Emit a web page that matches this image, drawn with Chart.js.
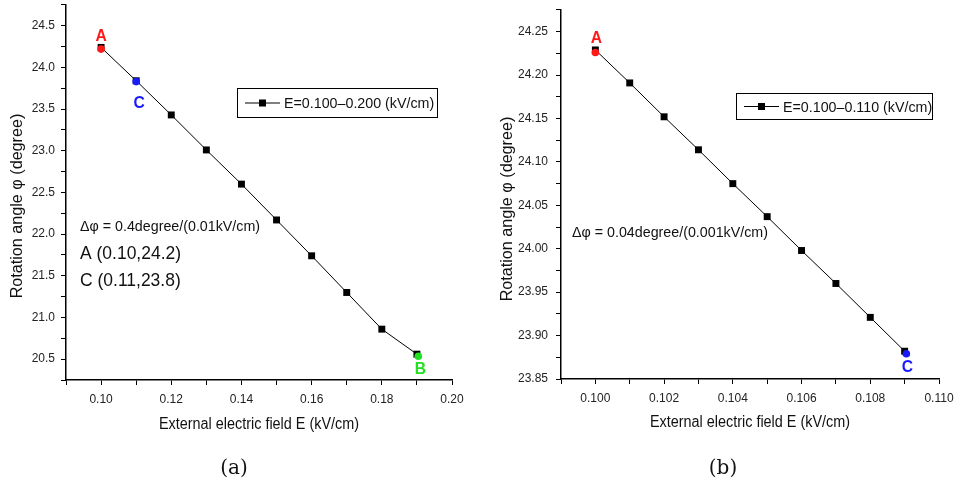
<!DOCTYPE html>
<html>
<head>
<meta charset="utf-8">
<script src="https://cdn.jsdelivr.net/npm/chart.js@4.4.0/dist/chart.umd.min.js"></script>
<style>
  body { margin: 0; background: #fff; }
  .panel { position: absolute; top: 0; height: 485px; }
</style>
</head>
<body>
<div class="panel" style="left:0;width:480px"><canvas id="panel-a" width="480" height="485"></canvas></div>
<div class="panel" style="left:480px;width:483px"><canvas id="panel-b" width="483" height="485"></canvas></div>
<script>
// panel (a): E = 0.100 - 0.200 kV/cm
const fieldA = [0.10, 0.11, 0.12, 0.13, 0.14, 0.15, 0.16, 0.17, 0.18, 0.19];
const angleA = [24.24, 23.84, 23.43, 23.01, 22.60, 22.17, 21.74, 21.30, 20.86, 20.56];
const markNamesA = ["A", "C", "B"];
const markFieldA = [0.100, 0.110, 0.1904];
const markAngleA = [24.22, 23.83, 20.535];
const xMajorA = [0.10, 0.12, 0.14, 0.16, 0.18, 0.20];
const yMajorA = [20.5, 21.0, 21.5, 22.0, 22.5, 23.0, 23.5, 24.0, 24.5];
const notesA = ["\u0394\u03c6 = 0.4degree/(0.01kV/cm)", "A (0.10,24.2)", "C (0.11,23.8)"];

// panel (b): E = 0.100 - 0.110 kV/cm
const fieldB = [0.100, 0.101, 0.102, 0.103, 0.104, 0.105, 0.106, 0.107, 0.108, 0.109];
const angleB = [24.229, 24.191, 24.152, 24.114, 24.075, 24.037, 23.998, 23.960, 23.921, 23.882];
const markNamesB = ["A", "C"];
const markFieldB = [0.100, 0.10905];
const markAngleB = [24.226, 23.879];
const xMajorB = [0.100, 0.102, 0.104, 0.106, 0.108, 0.110];
const yMajorB = [23.85, 23.90, 23.95, 24.00, 24.05, 24.10, 24.15, 24.20, 24.25];
const notesB = ["\u0394\u03c6 = 0.04degree/(0.001kV/cm)"];

const xTitle = "External electric field E (kV/cm)";
const yTitle = "Rotation angle \u03c6 (degree)";

const SANS = '"Liberation Sans", Arial, sans-serif';

// text squeezed a little horizontally, like the original figure
function squeezeText(ctx, text, x, y, font, sx, align) {
  ctx.save();
  ctx.font = font;
  ctx.textAlign = align || "center";
  ctx.textBaseline = "middle";
  ctx.translate(x, y);
  ctx.scale(sx, 1);
  ctx.fillText(text, 0, 0);
  ctx.restore();
}

function panelText(p) {
  return {
    id: "panelText",
    afterDraw(chart) {
      const ctx = chart.ctx;
      ctx.save();
      ctx.fillStyle = "#111";
      squeezeText(ctx, xTitle, p.xTitleAt[0], p.xTitleAt[1], "16px " + SANS, 0.9);
      ctx.save();
      ctx.translate(p.yTitleAt[0], p.yTitleAt[1]);
      ctx.rotate(-Math.PI / 2);
      squeezeText(ctx, yTitle, 0, 0, "17px " + SANS, 0.95);
      ctx.restore();
      ctx.font = '20px "DejaVu Serif", serif';
      ctx.textAlign = "center";
      ctx.textBaseline = "middle";
      ctx.fillText(p.caption, p.captionAt[0], p.captionAt[1]);

      // notes
      p.notes.forEach((n, i) => {
        squeezeText(ctx, n, p.notesAt[i][0], p.notesAt[i][1], p.noteFonts[i], 0.92, "left");
      });

      // legend box
      const lb = p.legend;
      const line = chart.data.datasets[1];
      ctx.strokeStyle = "#000";
      ctx.lineWidth = 1;
      ctx.strokeRect(lb.x + 0.5, lb.y + 0.5, lb.w, lb.h);
      const cy = lb.y + lb.h / 2 + 0.5;
      ctx.beginPath();
      ctx.moveTo(lb.x + 8, cy);
      ctx.lineTo(lb.x + 43, cy);
      ctx.stroke();
      ctx.fillStyle = "#000";
      ctx.fillRect(lb.x + 22, cy - 3.5, 7, 7);
      ctx.fillStyle = "#111";
      squeezeText(ctx, line.label, lb.x + 47, cy + 1, "15.5px " + SANS, 0.92, "left");

      // point labels A, B, C
      const meta = chart.getDatasetMeta(0);
      const marks = chart.data.datasets[0];
      meta.data.forEach((pt, i) => {
        ctx.fillStyle = marks.pointBackgroundColor[i];
        squeezeText(ctx, p.names[i], pt.x + p.nameOffsets[i][0], pt.y + p.nameOffsets[i][1],
          "bold 17px " + SANS, 0.92);
      });
      ctx.restore();
    }
  };
}

function tickList(min, max, step) {
  const n = Math.round((max - min) / step);
  const out = [];
  for (let i = 0; i <= n; i++) out.push({ value: min + i * step });
  return out;
}

function labelFor(v, majors, digits) {
  return majors.some(m => Math.abs(m - v) < 1e-9) ? v.toFixed(digits) : "";
}

function makePanel(id, p) {
  const ctx = document.getElementById(id).getContext("2d");
  const tickFont = { family: SANS, size: 12 };

  const data = {
    datasets: [
      {
        label: "marks",
        data: p.markX.map((x, i) => ({ x: x, y: p.markY[i] })),
        showLine: false,
        pointStyle: "circle",
        pointRadius: 3.8,
        pointBorderWidth: 0,
        pointBackgroundColor: p.markColors,
        order: 0,
      },
      {
        label: p.label,
        data: p.xs.map((x, i) => ({ x: x, y: p.ys[i] })),
        showLine: true,
        borderColor: "#000",
        borderWidth: 1,
        pointStyle: "rect",
        pointRadius: 4.9,
        pointBorderWidth: 0,
        pointBackgroundColor: "#000",
        order: 1,
      },
    ],
  };

  const config = {
    type: "scatter",
    data: data,
    options: {
      responsive: false,
      animation: false,
      events: [],
      layout: { padding: { left: 0, right: p.padRight, top: p.padTop, bottom: 0 } },
      plugins: {
        legend: { display: false },
        tooltip: { enabled: false },
      },
      scales: {
        x: {
          type: "linear",
          min: p.xRange[0],
          max: p.xRange[1],
          afterBuildTicks: s => { s.ticks = tickList(p.xRange[0], p.xRange[1], p.xStep); },
          afterFit: s => { s.height = p.xHeight; s.paddingLeft = 0; s.paddingRight = 0; },
          ticks: {
            autoSkip: false,
            maxRotation: 0,
            padding: 7,
            color: "#222",
            font: tickFont,
            callback: v => labelFor(v, p.xMajor, p.xDigits),
          },
          grid: { drawOnChartArea: false, tickLength: 5, color: "#000", lineWidth: 1 },
          border: { color: "#000", width: 1.5 },
        },
        y: {
          type: "linear",
          min: p.yRange[0],
          max: p.yRange[1],
          afterBuildTicks: s => { s.ticks = tickList(p.yRange[0], p.yRange[1], p.yStep); },
          afterFit: s => { s.width = p.yWidth; s.paddingTop = 0; s.paddingBottom = 0; },
          ticks: {
            autoSkip: false,
            padding: p.yPad,
            color: "#222",
            font: tickFont,
            callback: v => labelFor(v, p.yMajor, p.yDigits),
          },
          grid: { drawOnChartArea: false, tickLength: 5, color: "#000", lineWidth: 1 },
          border: { color: "#000", width: 1.5 },
        },
      },
    },
    plugins: [panelText(p)],
  };

  return new Chart(ctx, config);
}

makePanel("panel-a", {
  xs: fieldA, ys: angleA, label: "E=0.100\u20130.200 (kV/cm)",
  markX: markFieldA, markY: markAngleA, names: markNamesA,
  markColors: ["#ff1a1a", "#1a1aff", "#22e022"],
  nameOffsets: [[0, -13], [3, 22], [2, 13]],
  xRange: [0.09, 0.20], xStep: 0.01, xMajor: xMajorA, xDigits: 2,
  yRange: [20.25, 24.75], yStep: 0.25, yMajor: yMajorA, yDigits: 1,
  padRight: 28, padTop: 3, xHeight: 105, yWidth: 66, yPad: 6,
  notes: notesA, notesAt: [[80, 227], [80, 254], [80, 281]],
  noteFonts: ["15.5px " + SANS, "19px " + SANS, "19px " + SANS],
  legend: { x: 237, y: 88, w: 200, h: 29 },
  xTitleAt: [259, 425], yTitleAt: [17, 206],
  caption: "(a)", captionAt: [234, 469],
});

makePanel("panel-b", {
  xs: fieldB, ys: angleB, label: "E=0.100\u20130.110 (kV/cm)",
  markX: markFieldB, markY: markAngleB, names: markNamesB,
  markColors: ["#ff1a1a", "#1a1aff"],
  nameOffsets: [[1, -14], [1, 13]],
  xRange: [0.099, 0.110], xStep: 0.001, xMajor: xMajorB, xDigits: 3,
  yRange: [23.85, 24.275], yStep: 0.025, yMajor: yMajorB, yDigits: 2,
  padRight: 24, padTop: 10, xHeight: 106, yWidth: 81, yPad: 8,
  notes: notesB, notesAt: [[92, 233]],
  noteFonts: ["15.5px " + SANS],
  legend: { x: 256, y: 93, w: 196, h: 26 },
  xTitleAt: [270, 423], yTitleAt: [27, 209],
  caption: "(b)", captionAt: [243, 469],
});
</script>
</body>
</html>
